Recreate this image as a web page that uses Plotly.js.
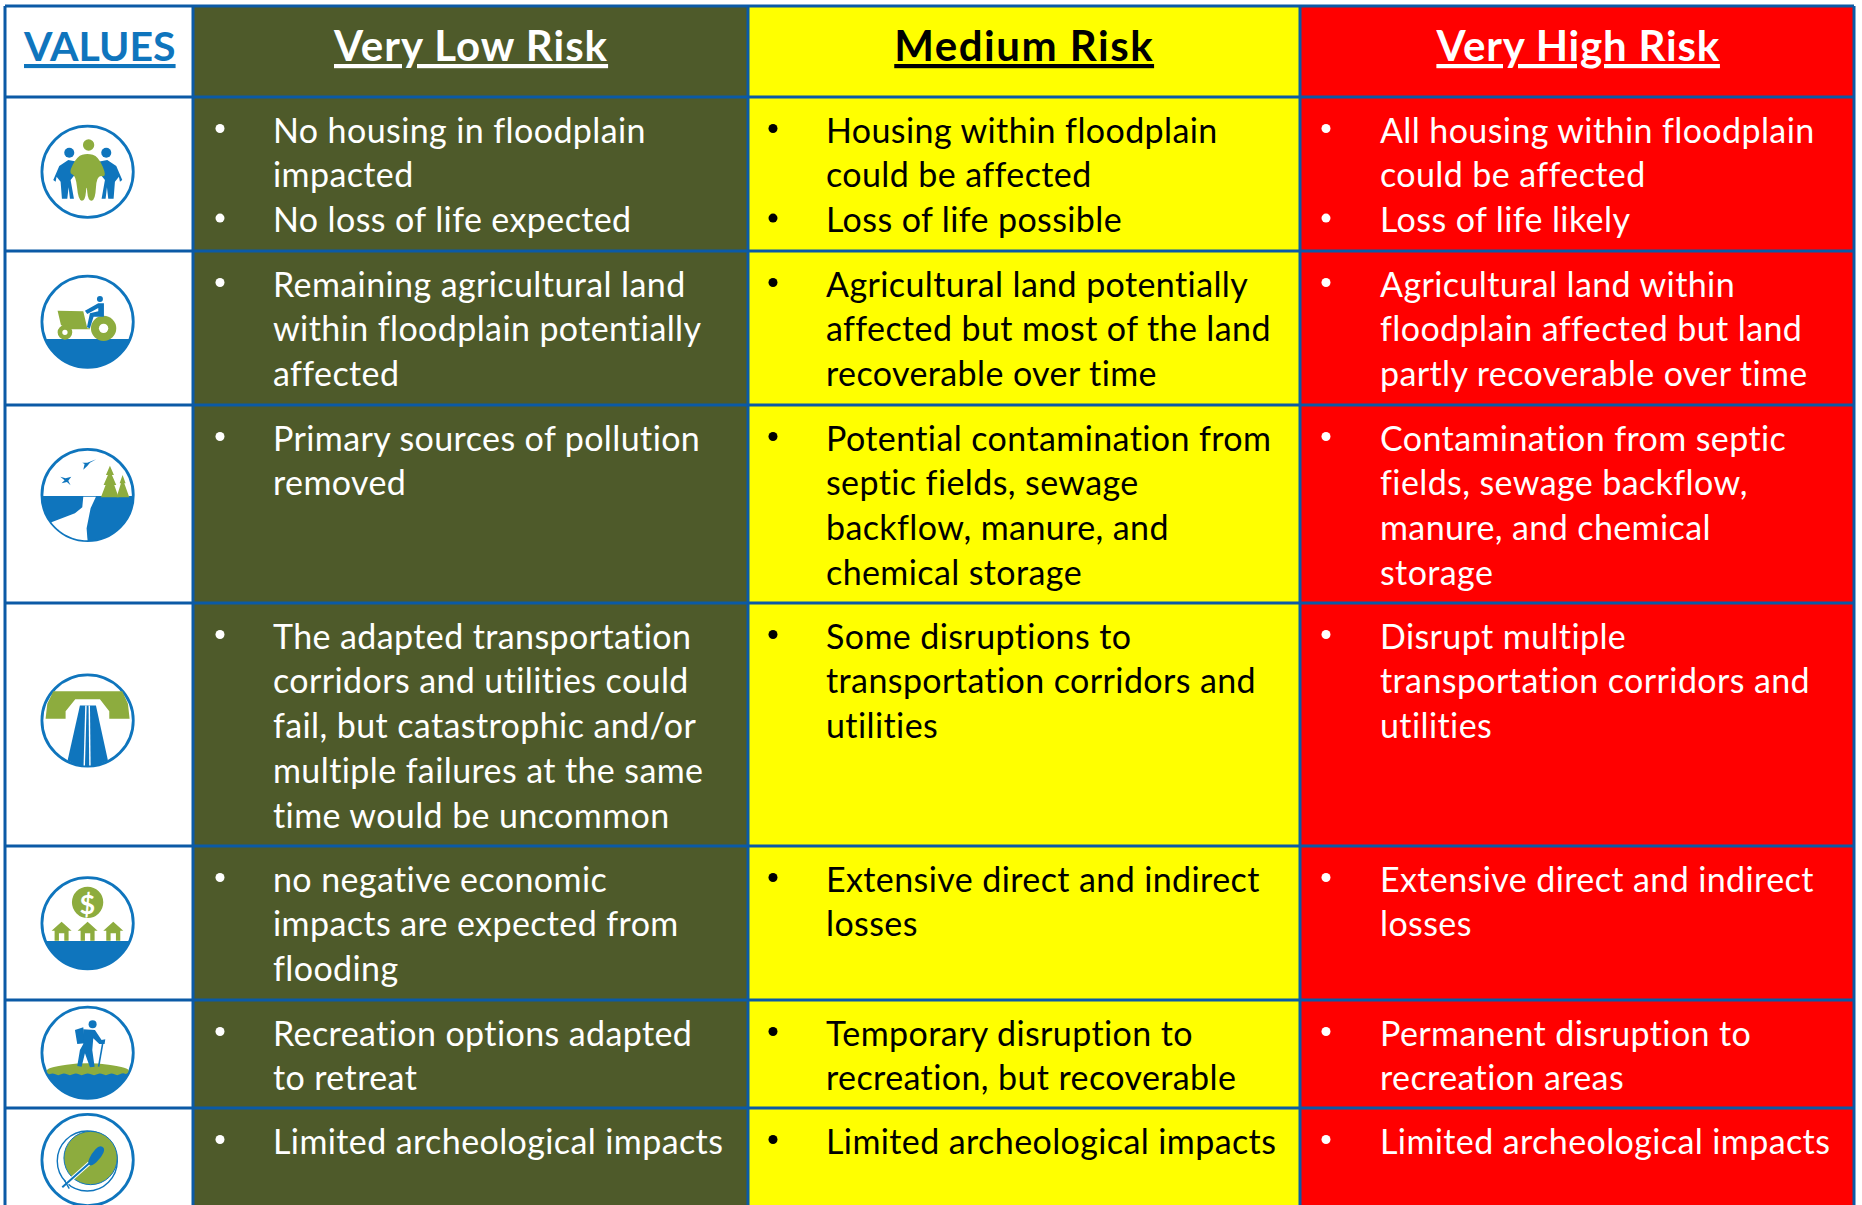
<!DOCTYPE html>
<html><head><meta charset="utf-8">
<script src="https://cdn.plot.ly/plotly-3.0.1.min.js"></script>
<style>html,body{margin:0;padding:0;background:#fff}#chart{width:1862px;height:1205px}
.textpoint text{letter-spacing:.4px}
.annotation-text{letter-spacing:1px}
.annotation[data-index="0"] .annotation-text,.annotation[data-index="4"] .annotation-text{letter-spacing:0}
.annotation[data-index="2"] .annotation-text{letter-spacing:1.5px}
.annotation[data-index="3"] .annotation-text{letter-spacing:.8px}
</style>
</head><body><div id="chart"></div>
<script>
// ---------- table content ----------
const headers = ["VALUES", "Very Low Risk", "Medium Risk", "Very High Risk"];
const riskLevels = [0, 1, 2, 3];
const veryLowRisk = [
  [["No housing in floodplain","impacted"],["No loss of life expected"]],
  [["Remaining agricultural land","within floodplain potentially","affected"]],
  [["Primary sources of pollution","removed"]],
  [["The adapted transportation","corridors and utilities could","fail, but catastrophic and/or","multiple failures at the same","time would be uncommon"]],
  [["no negative economic","impacts are expected from","flooding"]],
  [["Recreation options adapted","to retreat"]],
  [["Limited archeological impacts"]]
];
const mediumRisk = [
  [["Housing within floodplain","could be affected"],["Loss of life possible"]],
  [["Agricultural land potentially","affected but most of the land","recoverable over time"]],
  [["Potential contamination from","septic fields, sewage","backflow, manure, and","chemical storage"]],
  [["Some disruptions to","transportation corridors and","utilities"]],
  [["Extensive direct and indirect","losses"]],
  [["Temporary disruption to","recreation, but recoverable"]],
  [["Limited archeological impacts"]]
];
const veryHighRisk = [
  [["All housing within floodplain","could be affected"],["Loss of life likely"]],
  [["Agricultural land within","floodplain affected but land","partly recoverable over time"]],
  [["Contamination from septic","fields, sewage backflow,","manure, and chemical","storage"]],
  [["Disrupt multiple","transportation corridors and","utilities"]],
  [["Extensive direct and indirect","losses"]],
  [["Permanent disruption to","recreation areas"]],
  [["Limited archeological impacts"]]
];
const columns = [veryLowRisk, mediumRisk, veryHighRisk];

// ---------- layout of the table ----------
const colEdges = [5, 193, 748, 1300, 1854];
const rowEdges = [6, 97, 251, 405, 603, 846, 1000, 1108, 1205];
const FONT = "Lato, Carlito, sans-serif";
const BORDER = "#0b5aa6", BLUE = "#0f75bd", GREEN = "#8dac3e";
const OLIVE = "#4e5a2a", YELLOW = "#ffff00", RED = "#ff0000";
const BODY_SIZE = 34, HEAD_SIZE = 42, LINE = 44.8, FIRST = 37, BULLET_DY = -5.5;
const bulletX = [220, 773, 1326], textX = [273, 826, 1380];
const textColors = ["#ffffff", "#000000", "#ffffff"];

const z = rowEdges.slice(0, -1).map(() => riskLevels.map(v => v));
const traces = [{
  type: "heatmap", x: colEdges, y: rowEdges, z: z, zmin: 0, zmax: 3, showscale: false, hoverinfo: "skip",
  colorscale: [[0,"#ffffff"],[.25,"#ffffff"],[.25,OLIVE],[.5,OLIVE],[.5,YELLOW],[.75,YELLOW],[.75,RED],[1,RED]]
}];

columns.forEach((col, c) => {
  const tx = [], ty = [], tt = [], bx = [], by = [];
  col.forEach((bullets, r) => {
    let n = 0;
    bullets.forEach(lines => {
      const yy = rowEdges[r + 1] + FIRST + n * LINE;
      bx.push(bulletX[c]); by.push(yy + BULLET_DY);
      lines.forEach(l => {
        tx.push(textX[c]); ty.push(rowEdges[r + 1] + FIRST + n * LINE); tt.push(l); n++;
      });
    });
  });
  traces.push({type:"scatter", mode:"text", x:tx, y:ty, text:tt, textposition:"middle right", hoverinfo:"skip",
    textfont:{family:FONT, size:BODY_SIZE, color:textColors[c]}});
  traces.push({type:"scatter", mode:"markers", x:bx, y:by, hoverinfo:"skip",
    marker:{symbol:"circle", size:9, color:textColors[c]}});
});

// ---------- grid lines ----------
const shapes = [];
colEdges.forEach(x => shapes.push({type:"line", xref:"x", yref:"y", x0:x, x1:x, y0:rowEdges[0], y1:rowEdges[8], line:{color:BORDER, width:3}}));
rowEdges.slice(0, -1).forEach(y => shapes.push({type:"line", xref:"x", yref:"y", x0:colEdges[0], x1:colEdges[4], y0:y, y1:y, line:{color:BORDER, width:3}}));

// ---------- icons: drawn in units of a third of a pixel around each icon centre ----------
const CX = 87.6, S = 1 / 3;
const iconY = [171.7, 321.7, 495, 720.5, 923.3, 1052.7, 1160];
function mapPt(p, cy) { return (CX + p[0] * S).toFixed(2) + "," + (cy + p[1] * S).toFixed(2); }
function poly(cy, pts, color) {
  shapes.push({type:"path", xref:"x", yref:"y", path:"M" + pts.map(p => mapPt(p, cy)).join("L") + "Z", fillcolor:color, line:{width:0}});
}
function smooth(cy, pts, color) {
  const n = pts.length; const mid = (a, b) => [(a[0]+b[0])/2, (a[1]+b[1])/2];
  let d = "M" + mapPt(mid(pts[n-1], pts[0]), cy);
  pts.forEach((p, i) => { d += "Q" + mapPt(p, cy) + " " + mapPt(mid(p, pts[(i+1)%n]), cy); });
  shapes.push({type:"path", xref:"x", yref:"y", path:d + "Z", fillcolor:color, line:{width:0}});
}
function disc(cy, x, y, r, fill, stroke, w) {
  shapes.push({type:"circle", xref:"x", yref:"y", x0:CX+(x-r)*S, x1:CX+(x+r)*S, y0:cy+(y-r)*S, y1:cy+(y+r)*S,
    fillcolor:fill, line:{color:stroke||fill, width:w||0}});
}
function segLine(cy, a, b, color, w) {
  shapes.push({type:"line", xref:"x", yref:"y", x0:CX+a[0]*S, y0:cy+a[1]*S, x1:CX+b[0]*S, y1:cy+b[1]*S, line:{color:color, width:w}});
}
function arcPts(deg0, deg1, r) {
  const pts = [];
  for (let i = 0; i <= 24; i++) { const t = (deg0 + (deg1 - deg0) * i / 24) * Math.PI / 180; pts.push([r * Math.cos(t), r * Math.sin(t)]); }
  return pts;
}
function below(yCut, r) { // circular segment under a horizontal cut
  r = r || 136; const a = Math.asin(yCut / r) * 180 / Math.PI;
  return arcPts(a, 180 - a, r);
}
function ring(cy) { disc(cy, 0, 0, 137, "#ffffff", BLUE, 2.8); }
const off = (ox, oy, pts) => pts.map(p => [p[0] - ox, p[1] - oy]);

// people
let cy = iconY[0]; ring(cy);
disc(cy, 208-263, 458-515, 15, BLUE); disc(cy, 319-263, 458-515, 15, BLUE);
const leftP = [[160,540],[178,498],[205,480],[232,485],[240,505],[212,540],[222,596],[210,596],[206,562],[202,596],[186,596],[182,545],[170,530],[167,545]];
poly(cy, off(263,515,leftP), BLUE);
poly(cy, off(263,515,leftP.map(p => [527-p[0], p[1]])), BLUE);
disc(cy, 3, 435-515, 17, GREEN);
smooth(cy, off(263,515,[[262,460],[232,468],[205,520],[228,525],[235,602],[256,602],[260,550],[264,602],[286,602],[290,525],[322,532],[295,468]]), GREEN);

// tractor
cy = iconY[1]; ring(cy);
poly(cy, below(52), BLUE);
poly(cy, off(263,965,[[173,932],[250,934],[262,985],[270,985],[270,988],[205,988],[183,975]]), GREEN);
disc(cy, 195-263, 997-965, 22, GREEN); disc(cy, 195-263, 997-965, 8, "#ffffff");
disc(cy, 311-263, 985-965, 38, GREEN); disc(cy, 311-263, 985-965, 14, "#ffffff");
disc(cy, 300-263, 897-965, 9, BLUE);
poly(cy, off(263,965,[[255,932],[295,910],[312,910],[312,950],[281,950],[270,985],[261,982],[270,940],[295,934],[295,924],[262,942]]), BLUE);

// river
cy = iconY[2]; ring(cy);
poly(cy, below(3), BLUE);
poly(cy, off(263,225,[[250,230],[288,230],[272,265],[260,325],[262,352]]).concat(arcPts(90, 143, 136)).concat(off(263,225,[[225,280],[247,262]])), "#ffffff");
poly(cy, off(263,225,[[330,137],[342,165],[336,165],[349,195],[343,195],[356,232],[303,232],[317,195],[311,195],[324,165],[318,165]]), GREEN);
poly(cy, off(263,225,[[368,165],[377,190],[373,190],[388,232],[350,232],[363,190],[359,190]]), GREEN);
poly(cy, off(263,225,[[289,118],[270,128],[262,138],[250,149],[254,132],[247,128],[262,128]]), BLUE);
poly(cy, off(263,225,[[181,170],[197,175],[214,170],[205,182],[212,196],[201,186],[185,190],[194,181]]), BLUE);

// road
cy = iconY[3]; ring(cy);
poly(cy, off(263,900,[[160,812],[367,812],[384,850],[389,895],[328,895],[328,872],[300,836],[226,836],[197,872],[197,895],[137,895],[142,850]]), GREEN);
poly(cy, off(263,900,[[240,855],[288,855],[324,1020],[290,1034],[263,1037],[235,1034],[203,1020]]), BLUE);
segLine(cy, [-5,-45], [-10,135], "#ffffff", 1.4);
segLine(cy, [5,-45], [7,135], "#ffffff", 1.4);

// houses and money
cy = iconY[4]; ring(cy);
poly(cy, below(53), BLUE);
disc(cy, 0, 247-310, 47, GREEN);
[185, 263, 340].forEach(x => poly(cy, off(263,310,[[x,305],[x+30,332],[x+21,332],[x+21,362],[x+8,362],[x+8,340],[x-8,340],[x-8,362],[x-21,362],[x-21,332],[x-30,332]]), GREEN));

// hiker
cy = iconY[5]; ring(cy);
poly(cy, below(60), BLUE);
smooth(cy, off(263,698,[[137,742],[263,726],[389,742],[383,764],[368,758],[352,768],[335,758],[318,768],[300,758],[283,768],[263,758],[245,768],[228,758],[210,768],[192,758],[175,768],[158,758],[143,766]]), GREEN);
disc(cy, 278-263, 613-698, 12, BLUE);
poly(cy, off(263,698,[[225,630],[250,622],[255,670],[232,672]]), BLUE);
poly(cy, off(263,698,[[250,628],[285,630],[305,660],[316,658],[314,672],[298,672],[280,655],[277,690],[284,740],[270,742],[255,700],[245,740],[232,738],[240,690],[250,672]]), BLUE);
segLine(cy, [310-263,660-698], [296-263,740-698], BLUE, 1.6);

// archeology
cy = iconY[6]; ring(cy);
disc(cy, 262-263, 1023-1020, 90, "#ffffff", BLUE, 1.4);
disc(cy, 272-263, 1014-1020, 80, GREEN, BLUE, 1);
segLine(cy, [5,10], [-76,82], "#ffffff", 4);
segLine(cy, [5,10], [-76,82], BLUE, 2);
segLine(cy, [-70,60], [-55,86], BLUE, 1.4);
smooth(cy, off(263,1020,[[298,975],[316,985],[305,1012],[275,1040],[262,1030],[275,1000]]), BLUE);

// ---------- headers ----------
const headColors = [BLUE, "#ffffff", "#000000", "#ffffff"];
const annotations = headers.map((h, i) => ({
  xref:"x", yref:"y", x:(colEdges[i] + colEdges[i+1]) / 2, y:45, text:"<b>" + h + "</b>", showarrow:false,
  xanchor:"center", yanchor:"middle", font:{family:FONT, size:i ? HEAD_SIZE : 41, color:headColors[i], lineposition:"under"}
}));
annotations.push({xref:"x", yref:"y", x:CX, y:iconY[4] + (247-310)*S + 1, text:"<b>$</b>", showarrow:false,
  xanchor:"center", yanchor:"middle", font:{family:FONT, size:27, color:"#ffffff"}});

Plotly.newPlot("chart", traces, {
  width:1862, height:1205, margin:{l:0,r:0,t:0,b:0,pad:0}, showlegend:false,
  paper_bgcolor:"#ffffff", plot_bgcolor:"#ffffff",
  xaxis:{range:[0,1862], visible:false, fixedrange:true},
  yaxis:{range:[1205,0], visible:false, fixedrange:true},
  shapes:shapes, annotations:annotations
}, {displayModeBar:false, staticPlot:true});
</script></body></html>
